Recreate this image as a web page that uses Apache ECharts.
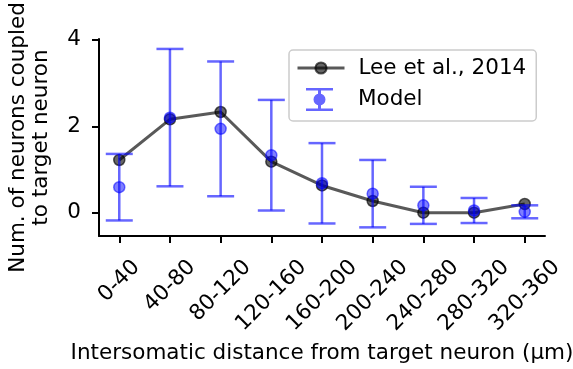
<!DOCTYPE html>
<html>
<head>
<meta charset="utf-8">
<script src="https://cdn.jsdelivr.net/npm/echarts@6/dist/echarts.min.js"></script>
<style>
  html, body { margin: 0; padding: 0; background: #fff; }
  #chart { width: 573px; height: 369px; }
</style>
</head>
<body>
<div id="chart"></div>
<script>
// distance bins (µm)
var binLabels = ['0-40', '40-80', '80-120', '120-160', '160-200', '200-240', '240-280', '280-320', '320-360'];
// Lee et al., 2014 measured values
var leeValues = [1.22, 2.16, 2.33, 1.18, 0.63, 0.27, 0.0, 0.0, 0.2];
// model means and error (+/-)
var modelMean = [0.59, 2.2, 1.94, 1.33, 0.68, 0.44, 0.17, 0.05, 0.02];
var modelErr  = [0.77, 1.59, 1.56, 1.28, 0.93, 0.78, 0.43, 0.29, 0.15];
var yTicks = [0, 2, 4];

var FONT = 'DejaVu Sans';
var FS = 21.5;

// measure label widths so rotated labels hang like matplotlib's (centred, top aligned)
var cv = document.createElement('canvas').getContext('2d');
cv.font = FS + 'px "' + FONT + '"';
var richX = {};
binLabels.forEach(function (s, i) {
    var w = cv.measureText(s).width;
    richX['t' + i] = {
        fontSize: FS, fontFamily: FONT, color: '#000',
        padding: [w / 2, w / 2, 0, 0]
    };
});

var leeData = leeValues.map(function (v, i) { return [i, v]; });
var modelData = modelMean.map(function (v, i) { return [i, v]; });
var errData = modelMean.map(function (v, i) { return [i, v - modelErr[i], v + modelErr[i]]; });

var blue = 'rgba(0,0,255,0.6)';
var errIcon = 'path://M0,0h27v2.5h-27z M12,2.5h3v18h-3z M0,20.5h27v2.5h-27z M7.5,11.5a6,6 0 1,1 12,0a6,6 0 1,1 -12,0z';

var myChart = echarts.init(document.getElementById('chart'));
var option = {
    animation: false,
    grid: { left: 99, right: 28, top: 39, bottom: 133, outerBoundsMode: 'none', containLabel: false },
    legend: [
        {
            data: ['Lee et al., 2014'],
            left: 289, top: 50,
            padding: [7, 10, 42, 7],
            itemWidth: 47, itemHeight: 14, itemGap: 0,
            lineStyle: { width: 3, color: 'rgba(0,0,0,0.65)' },
            textStyle: { fontSize: FS, fontFamily: FONT, color: '#000', padding: [0, 0, 0, 9] },
            borderColor: '#cccccc', borderWidth: 1.5, borderRadius: 4,
            backgroundColor: 'rgba(255,255,255,0.8)'
        },
        {
            data: [{ name: 'Model', icon: errIcon }],
            left: 306, top: 88,
            padding: 0,
            itemWidth: 47, itemHeight: 23,
            textStyle: { fontSize: FS, fontFamily: FONT, color: '#000', padding: [0, 0, 0, 10] }
        }
    ],
    xAxis: {
        type: 'value',
        min: -0.4, max: 8.4,
        name: 'Intersomatic distance from target neuron (μm)',
        nameLocation: 'middle',
        nameGap: 105,
        nameTextStyle: { fontSize: FS, fontFamily: FONT, color: '#000' },
        axisLine: { onZero: false, lineStyle: { color: '#000', width: 2 } },
        axisTick: { customValues: [0, 1, 2, 3, 4, 5, 6, 7, 8], length: 7, lineStyle: { color: '#000', width: 2 } },
        axisLabel: {
            customValues: [0, 1, 2, 3, 4, 5, 6, 7, 8],
            rotate: 45,
            align: 'center',
            verticalAlign: 'middle',
            margin: 28,
            fontSize: FS, fontFamily: FONT, color: '#000',
            formatter: function (v) {
                var i = Math.round(v);
                return '{t' + i + '|' + binLabels[i] + '}';
            },
            rich: richX
        },
        splitLine: { show: false }
    },
    yAxis: {
        type: 'value',
        min: -0.54, max: 4.02,
        name: 'Num. of neurons coupled\nto target neuron',
        nameLocation: 'middle',
        nameGap: 46,
        nameTextStyle: { fontSize: FS, fontFamily: FONT, color: '#000', lineHeight: 23 },
        axisLine: { show: true, onZero: false, lineStyle: { color: '#000', width: 2 } },
        axisTick: { show: true, customValues: yTicks, length: 7, lineStyle: { color: '#000', width: 2 } },
        axisLabel: { customValues: yTicks, margin: 18, fontSize: FS, fontFamily: FONT, color: '#000' },
        splitLine: { show: false }
    },
    series: [
        {
            name: 'Lee et al., 2014',
            type: 'line',
            data: leeData,
            symbol: 'circle',
            symbolSize: 11,
            lineStyle: { color: 'rgba(0,0,0,0.65)', width: 3 },
            itemStyle: { color: 'rgba(0,0,0,0.6)', borderColor: 'rgba(0,0,0,0.65)', borderWidth: 1.5 },
            z: 2
        },
        {
            name: 'Model',
            type: 'custom',
            data: errData,
            itemStyle: { color: blue },
            renderItem: function (params, api) {
                var x = api.value(0);
                var lo = api.coord([x, api.value(1)]);
                var hi = api.coord([x, api.value(2)]);
                var cap = 13.5;
                var st = { stroke: blue, lineWidth: 2.5, fill: null };
                return {
                    type: 'group',
                    children: [
                        { type: 'line', shape: { x1: lo[0], y1: lo[1], x2: hi[0], y2: hi[1] }, style: st },
                        { type: 'line', shape: { x1: lo[0] - cap, y1: lo[1], x2: lo[0] + cap, y2: lo[1] }, style: st },
                        { type: 'line', shape: { x1: hi[0] - cap, y1: hi[1], x2: hi[0] + cap, y2: hi[1] }, style: st }
                    ]
                };
            },
            z: 3
        },
        {
            name: 'Model',
            type: 'scatter',
            data: modelData,
            symbol: 'circle',
            symbolSize: 11,
            itemStyle: { color: 'rgba(0,0,255,0.5)', borderColor: 'rgba(0,0,255,0.55)', borderWidth: 1.5, opacity: 1 },
            z: 4
        }
    ]
};
myChart.setOption(option);
</script>
</body>
</html>
